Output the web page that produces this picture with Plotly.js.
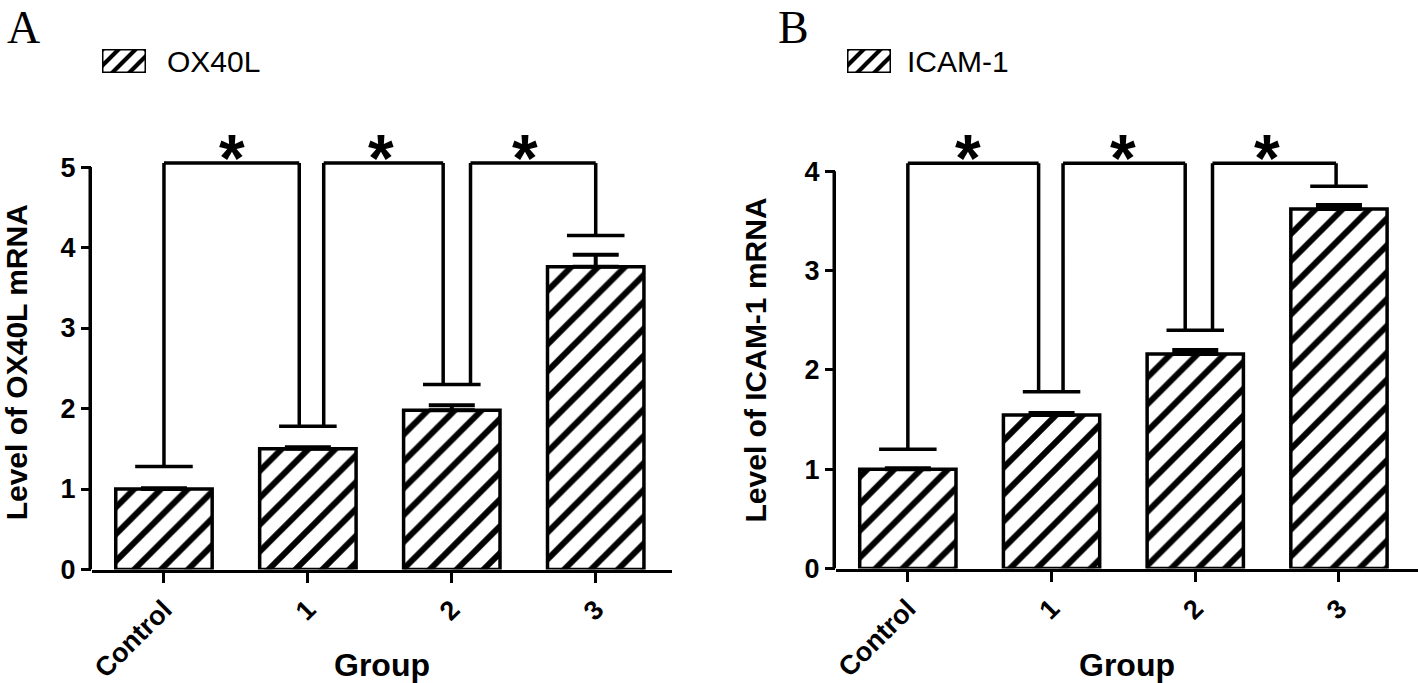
<!DOCTYPE html>
<html>
<head>
<meta charset="utf-8">
<script src="https://cdn.plot.ly/plotly-3.0.1.min.js"></script>
<style>html,body{margin:0;padding:0;background:#fff;}#chart{width:1418px;height:683px;}</style>
</head>
<body>
<div id="chart"></div>
<script>
// ---- data ----
const groups = ['Control', '1', '2', '3'];

const ox40lMean = [1.00, 1.50, 1.98, 3.76];
const ox40lSem  = [0.01, 0.02, 0.06, 0.15];

const icamMean = [1.00, 1.545, 2.16, 3.62];
const icamSem  = [0.01, 0.02, 0.04, 0.04];

// significance brackets (category index positions, y levels)
const ox40lBracketFrom = [0, 1.11, 2.13];
const ox40lBracketTo   = [0.94, 1.94, 3.0];
const ox40lBracketTop  = 5.05;
const ox40lCapLevel    = [1.28, 1.78, 2.30, 4.15];
const ox40lStarX       = [0.47, 1.51, 2.51];

const icamBracketFrom = [0, 1.08, 2.12];
const icamBracketTo   = [0.91, 1.93, 2.98];
const icamBracketTop  = 4.08;
const icamCapLevel    = [1.20, 1.78, 2.40, 3.85];
const icamStarX       = [0.42, 1.50, 2.50];

const starLabel = '*';
const legendNames = ['OX40L', 'ICAM-1'];
const yTitles = ['Level of OX40L mRNA', 'Level of ICAM-1 mRNA'];
const xTitle = 'Group';
const panelLetters = ['A', 'B'];
const swatchValue = [1];

// ---- styling ----
const W = 1418, H = 683;
const LW = 3.5;
const SANS = 'Liberation Sans, Arial, sans-serif';
const SERIF = 'Liberation Serif, Times New Roman, serif';
const barPattern = {shape: '/', fgcolor: '#000', bgcolor: '#fff', size: 19, solidity: 0.32, fillmode: 'replace'};

function barTrace(y, err, xa, ya) {
  return {
    type: 'bar', x: groups, y: y, xaxis: xa, yaxis: ya, width: 0.67,
    marker: {color: '#fff', pattern: barPattern, line: {color: '#000', width: LW}},
    error_y: {type: 'data', symmetric: false, array: err, arrayminus: err.map(() => 0),
              color: '#000', thickness: 4, width: 23},
    showlegend: false, hoverinfo: 'skip'
  };
}
function swatchTrace(xa, ya) {
  return {
    type: 'bar', x: [0], y: swatchValue, xaxis: xa, yaxis: ya, width: 1, cliponaxis: false,
    marker: {color: '#fff', cornerradius: 3,
             pattern: {shape: '/', fgcolor: '#000', bgcolor: '#fff', size: 12, solidity: 0.35, fillmode: 'replace'},
             line: {color: '#000', width: 3}},
    showlegend: false, hoverinfo: 'skip'
  };
}

function line(xr, yr, x0, y0, x1, y1) {
  return {type: 'line', xref: xr, yref: yr, x0: x0, y0: y0, x1: x1, y1: y1,
          line: {color: '#000', width: LW}, layer: 'above'};
}
function bracketShapes(xr, yr, from, to, top, caps) {
  const s = [];
  for (let i = 0; i < from.length; i++) {
    s.push(line(xr, yr, from[i], caps[Math.round(from[i])], from[i], top));
    s.push(line(xr, yr, from[i], top, to[i], top));
    s.push(line(xr, yr, to[i], top, to[i], caps[Math.round(to[i])]));
  }
  for (let g = 0; g < caps.length; g++) {
    s.push(line(xr, yr, g - 0.2, caps[g], g + 0.2, caps[g]));
  }
  return s;
}
function yAxisLine(xr, yr, top) {
  return {type: 'line', xref: xr + ' domain', yref: yr, xsizemode: 'pixel', xanchor: 0,
          x0: -LW / 2, x1: -LW / 2, y0: 0, y1: top, line: {color: '#000', width: LW}};
}
function stars(xr, yr, xs, top) {
  return xs.map(x => ({xref: xr, yref: yr, x: x, y: top, text: starLabel, showarrow: false,
    xanchor: 'center', yanchor: 'middle', yshift: 5,
    font: {family: SANS, size: 66, weight: 'bold', color: '#000'}}));
}
function textAnn(text, px, py, size, family, weight, yanchor) {
  return {xref: 'paper', yref: 'paper', x: px / W, y: 1 - py / H, text: text, showarrow: false,
          borderpad: 0, xanchor: 'left', yanchor: yanchor || 'middle',
          font: {family: family, size: size, weight: weight, color: '#000'}};
}

const tickFont = {family: SANS, size: 27, weight: 'bold', color: '#000'};
function xAxis(domain, range) {
  return {domain: domain, range: range, type: 'category', showline: true, linewidth: LW, linecolor: '#000',
          ticks: 'outside', ticklen: 10, tickwidth: 3, tickcolor: '#000', tickangle: -45,
          tickfont: tickFont, showgrid: false, zeroline: false, fixedrange: true,
          title: {text: xTitle, font: {family: SANS, size: 32, weight: 'bold', color: '#000'}}};
}
function yAxis(domain, range, dtick, title) {
  return {domain: domain, range: range, showline: false, ticks: 'outside', ticklen: 10, tickwidth: 3,
          tickcolor: '#000', dtick: dtick, tick0: 0, tickfont: tickFont, showgrid: false, zeroline: false,
          fixedrange: true, title: {text: title, font: {family: SANS, size: 30, weight: 'bold', color: '#000'}}};
}
function hiddenAxis(domain, range) {
  return {domain: domain, range: range, visible: false, fixedrange: true};
}

const data = [
  barTrace(ox40lMean, ox40lSem, 'x', 'y'),
  barTrace(icamMean, icamSem, 'x2', 'y2'),
  swatchTrace('x3', 'y3'),
  swatchTrace('x4', 'y4')
];

const layout = {
  width: W, height: H, margin: {l: 0, r: 0, t: 0, b: 0},
  paper_bgcolor: '#fff', plot_bgcolor: 'rgba(0,0,0,0)', showlegend: false,
  xaxis: xAxis([92 / W, 672 / W], [-0.5, 3.53]),
  yaxis: yAxis([1 - 569.5 / H, 1 - 155 / H], [0, 5.15], 1, yTitles[0]),
  xaxis2: Object.assign(xAxis([836 / W, 1], [-0.5, 3.55]), {anchor: 'y2'}),
  yaxis2: Object.assign(yAxis([1 - 568.5 / H, 1 - 151.4 / H], [0, 4.2], 1, yTitles[1]), {anchor: 'x2'}),
  xaxis3: Object.assign(hiddenAxis([102 / W, 146 / W], [-0.5, 0.5]), {anchor: 'y3'}),
  yaxis3: Object.assign(hiddenAxis([1 - 73 / H, 1 - 49 / H], [0, 1]), {anchor: 'x3'}),
  xaxis4: Object.assign(hiddenAxis([847 / W, 891 / W], [-0.5, 0.5]), {anchor: 'y4'}),
  yaxis4: Object.assign(hiddenAxis([1 - 73 / H, 1 - 49 / H], [0, 1]), {anchor: 'x4'}),
  shapes: [].concat(
    bracketShapes('x', 'y', ox40lBracketFrom, ox40lBracketTo, ox40lBracketTop, ox40lCapLevel),
    bracketShapes('x2', 'y2', icamBracketFrom, icamBracketTo, icamBracketTop, icamCapLevel),
    [yAxisLine('x', 'y', 5), yAxisLine('x2', 'y2', 4)]
  ),
  annotations: [].concat(
    stars('x', 'y', ox40lStarX, ox40lBracketTop),
    stars('x2', 'y2', icamStarX, icamBracketTop),
    [textAnn(panelLetters[0], 6, 1, 46, SERIF, 'normal', 'top'),
     textAnn(panelLetters[1], 777, 1, 46, SERIF, 'normal', 'top'),
     textAnn(legendNames[0], 166, 61, 30, SANS, 'normal'),
     textAnn(legendNames[1], 906, 61, 30, SANS, 'normal')]
  )
};

Plotly.newPlot('chart', data, layout, {staticPlot: true, displayModeBar: false});
</script>
</body>
</html>
